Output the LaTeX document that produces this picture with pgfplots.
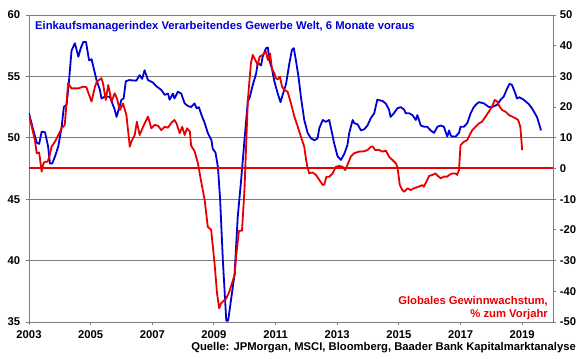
\documentclass[border=0pt]{standalone}
\usepackage{pgfplots}
\pgfplotsset{compat=1.18}
\usepackage{fontspec}
\setmainfont{Liberation Sans}
\definecolor{pmiblue}{RGB}{0,0,210}
\definecolor{epsred}{RGB}{232,0,0}
\definecolor{gridgray}{RGB}{125,125,125}
\begin{document}
\fontsize{11.3}{13}\selectfont\bfseries
\begin{tikzpicture}
\path[use as bounding box] (-29bp,-37bp) rectangle (551bp,322bp);
\pgfplotsset{
  common/.style={
    at={(0,0)}, anchor=south west,
    width=524bp, height=307bp, scale only axis,
    xmin=2003, xmax=2020,
    tick align=outside, major tick length=3bp,
    tick style={gridgray, line width=0.9pt},
    axis line style={gridgray, line width=0.9pt},
    ticklabel style={font=\fontsize{11.3}{13}\selectfont\bfseries, text=black},
    /pgf/number format/assume math mode=true,
    /pgf/number format/1000 sep={},
  }
}
\begin{axis}[common,
  ymin=35, ymax=60, ytick={35,40,45,50,55,60},
  xtick={2003,2005,2007,2009,2011,2013,2015,2017,2019},
  xtick pos=bottom, ytick pos=left,
  ymajorgrids, grid style={gridgray, line width=0.9pt},
  yticklabel style={xshift=-2bp},
  xticklabel style={yshift=-2bp},
]
\addplot[pmiblue, line width=1.8bp, line join=round] table {
2003.00 52.0
2003.10 51.0
2003.25 49.6
2003.33 49.5
2003.41 50.5
2003.52 50.45
2003.62 49.3
2003.68 47.9
2003.75 47.9
2003.84 48.45
2003.95 49.3
2004.06 50.9
2004.13 52.5
2004.22 52.7
2004.29 54.4
2004.38 57.1
2004.49 57.7
2004.60 56.6
2004.68 57.3
2004.76 57.8
2004.85 57.8
2004.95 56.3
2005.03 56.4
2005.19 54.7
2005.30 53.9
2005.35 53.2
2005.46 53.35
2005.62 53.35
2005.78 52.3
2005.84 51.7
2006.00 53.1
2006.07 53.2
2006.14 54.6
2006.25 54.7
2006.48 54.65
2006.59 55.1
2006.67 54.8
2006.75 55.5
2006.86 54.7
2007.02 54.5
2007.13 54.2
2007.29 53.9
2007.40 53.5
2007.51 53.6
2007.56 53.1
2007.67 53.6
2007.72 53.2
2007.83 53.75
2007.94 53.6
2008.05 52.8
2008.15 52.6
2008.26 52.5
2008.37 52.8
2008.44 52.4
2008.51 52.5
2008.59 51.9
2008.70 51.2
2008.80 50.4
2008.92 49.8
2008.96 49.1
2009.05 48.8
2009.13 47.6
2009.20 45.0
2009.29 40.0
2009.40 35.1
2009.46 35.1
2009.67 38.9
2009.77 43.5
2009.88 46.5
2009.99 49.8
2010.10 53.0
2010.15 53.2
2010.26 54.3
2010.37 55.25
2010.42 56.1
2010.53 55.9
2010.58 56.6
2010.69 57.3
2010.75 57.35
2010.80 56.3
2010.88 55.65
2010.96 54.6
2011.07 53.6
2011.16 52.9
2011.23 53.5
2011.34 54.4
2011.45 56.1
2011.53 57.15
2011.59 57.3
2011.66 56.3
2011.75 54.85
2011.82 53.35
2011.93 51.45
2012.04 50.4
2012.15 49.95
2012.26 49.8
2012.36 49.95
2012.42 50.8
2012.53 51.45
2012.63 51.3
2012.74 51.45
2012.83 50.4
2012.90 49.55
2013.01 48.5
2013.12 48.2
2013.23 48.7
2013.33 49.4
2013.39 50.4
2013.50 51.45
2013.55 51.2
2013.66 51.1
2013.77 50.6
2013.88 50.7
2013.98 51.0
2014.09 51.6
2014.20 52.0
2014.30 53.1
2014.47 53.0
2014.57 52.8
2014.68 52.3
2014.73 51.7
2014.84 52.0
2014.95 52.4
2015.06 52.5
2015.17 52.3
2015.22 52.0
2015.33 52.0
2015.44 51.85
2015.55 51.45
2015.60 51.85
2015.71 51.0
2015.82 50.9
2015.92 50.9
2016.03 50.6
2016.14 50.4
2016.25 50.9
2016.36 51.0
2016.46 50.9
2016.57 50.1
2016.63 50.6
2016.68 50.2
2016.73 50.1
2016.84 50.1
2016.95 50.4
2017.00 50.9
2017.11 50.9
2017.22 51.2
2017.33 52.0
2017.43 52.5
2017.54 52.8
2017.60 52.9
2017.76 52.8
2017.92 52.5
2018.03 52.5
2018.19 52.7
2018.30 53.1
2018.40 53.35
2018.51 54.0
2018.59 54.4
2018.67 54.3
2018.78 53.6
2018.83 53.2
2018.91 53.3
2019.05 53.1
2019.21 52.75
2019.32 52.4
2019.41 52.0
2019.48 51.7
2019.56 51.05
2019.61 50.6
};
\end{axis}
\begin{axis}[common,
  axis x line=none, axis y line*=right,
  ymin=-50, ymax=50, ytick={-50,-40,...,50},
]
\addplot[epsred, line width=2bp] coordinates {(2003,0) (2020,0)};
\addplot[epsred, line width=1.8bp, line join=round] table {
2003.00 17.4
2003.09 13.6
2003.19 9.3
2003.25 5.0
2003.33 5.2
2003.41 -1.0
2003.47 1.7
2003.52 2.2
2003.60 2.2
2003.66 3.8
2003.73 7.1
2003.84 8.7
2003.95 10.9
2004.06 13.1
2004.16 14.2
2004.27 27.75
2004.38 26.1
2004.60 26.1
2004.76 26.65
2004.86 26.5
2004.97 23.4
2005.03 21.8
2005.14 26.65
2005.20 28.3
2005.35 29.4
2005.40 27.75
2005.49 22.3
2005.57 27.2
2005.68 21.8
2005.78 24.5
2005.85 22.9
2005.95 19.05
2006.05 21.2
2006.16 17.4
2006.27 7.1
2006.32 8.7
2006.43 10.9
2006.50 15.25
2006.59 10.9
2006.70 13.6
2006.86 16.9
2006.97 13.1
2007.08 14.2
2007.19 13.9
2007.29 12.5
2007.40 13.6
2007.51 13.3
2007.62 14.9
2007.72 15.8
2007.78 14.8
2007.89 11.5
2007.97 13.6
2008.05 10.9
2008.13 13.1
2008.22 12.0
2008.26 7.4
2008.37 5.7
2008.48 1.7
2008.59 -4.5
2008.70 -10.3
2008.80 -19.0
2008.91 -20.0
2009.02 -30.9
2009.10 -40.65
2009.17 -45.5
2009.23 -43.9
2009.40 -42.3
2009.50 -40.1
2009.61 -36.6
2009.67 -34.7
2009.72 -28.7
2009.81 -20.3
2009.91 -20.3
2009.99 -7.0
2010.10 22.3
2010.20 34.3
2010.26 37.0
2010.37 34.8
2010.42 33.7
2010.48 36.4
2010.58 37.0
2010.69 38.05
2010.75 35.3
2010.82 37.5
2010.88 32.6
2010.96 31.0
2011.01 29.4
2011.07 29.0
2011.14 29.9
2011.21 26.65
2011.28 25.6
2011.39 25.0
2011.50 21.2
2011.61 16.9
2011.72 13.6
2011.82 10.4
2011.93 7.1
2011.99 2.8
2012.03 0.6
2012.09 -1.6
2012.20 -1.3
2012.31 -2.1
2012.42 -3.75
2012.53 -5.4
2012.58 -5.2
2012.65 -2.7
2012.74 -2.7
2012.85 -1.6
2012.96 0.6
2013.06 0.8
2013.17 0.6
2013.26 -0.5
2013.33 1.1
2013.44 3.85
2013.55 5.0
2013.71 5.5
2013.87 5.6
2013.98 6.0
2014.09 7.1
2014.15 7.2
2014.23 6.0
2014.34 6.1
2014.47 5.5
2014.58 5.8
2014.68 3.85
2014.79 2.8
2014.90 1.7
2014.95 0.6
2014.98 -1.6
2015.03 -5.4
2015.11 -7.0
2015.17 -7.55
2015.28 -6.45
2015.38 -7.0
2015.49 -6.45
2015.65 -5.9
2015.76 -5.4
2015.81 -5.9
2015.92 -3.75
2015.98 -2.4
2016.09 -2.1
2016.19 -1.6
2016.25 -2.3
2016.36 -3.2
2016.46 -2.65
2016.57 -2.65
2016.63 -2.1
2016.73 -1.6
2016.84 -1.6
2016.89 -2.1
2016.95 -0.5
2017.00 7.65
2017.11 8.7
2017.22 9.3
2017.27 10.4
2017.38 12.5
2017.49 13.6
2017.60 14.7
2017.70 15.25
2017.81 16.9
2017.92 18.5
2018.03 20.4
2018.11 22.3
2018.19 21.8
2018.27 20.1
2018.35 19.05
2018.46 18.5
2018.57 17.4
2018.67 16.9
2018.78 16.4
2018.87 15.8
2018.94 13.6
2019.00 6.0
};
\end{axis}
\node[anchor=base west, text=pmiblue, inner sep=0pt] at (6bp,292bp) {Einkaufsmanagerindex Verarbeitendes Gewerbe Welt, 6 Monate voraus};
\node[anchor=base east, text=epsred, inner sep=0pt] at (519bp,18bp) {Globales Gewinnwachstum,};
\node[anchor=base east, text=epsred, inner sep=0pt] at (519bp,5bp) {\% zum Vorjahr};
\node[anchor=base east, inner sep=0pt] at (547bp,-28bp) {Quelle: JPMorgan, MSCI, Bloomberg, Baader Bank Kapitalmarktanalyse};
\end{tikzpicture}
\end{document}
